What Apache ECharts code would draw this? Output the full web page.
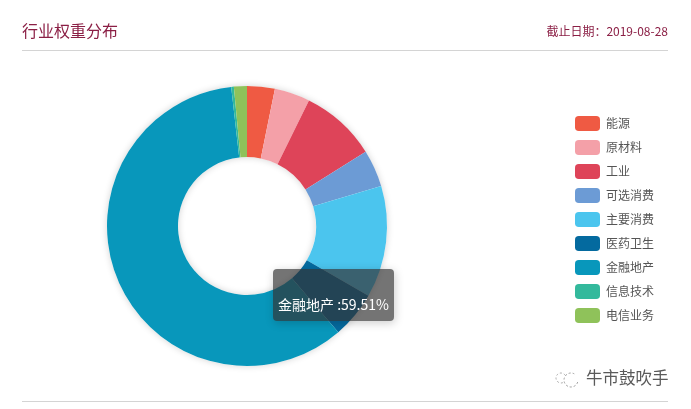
<!DOCTYPE html>
<html>

<head>
    <meta charset="utf-8">
    <title>行业权重分布</title>
    <script src="https://cdn.jsdelivr.net/npm/echarts@6/dist/echarts.min.js"></script>
    <style>
        html, body { margin: 0; padding: 0; background: #fff; }
    </style>
</head>

<body>
    <main id="main" style="width: 691px; height: 409px;"></main>

    <script>
        var categories = ['能源', '原材料', '工业', '可选消费', '主要消费', '医药卫生', '金融地产', '信息技术', '电信业务'];
        var weights = [3.2, 4.1, 8.8, 4.3, 12.9, 5.4, 59.51, 0.3, 1.5];
        var palette = ['#ef5a43', '#f4a0a8', '#de4459', '#6c9bd5', '#4bc5ee', '#046a9f', '#0897bb', '#33b99c', '#8fc25a'];

        var FONT = '"Noto Sans CJK SC", "Liberation Sans", sans-serif';
        var ACTIVE_INDEX = 6;
        var PIE_CENTER = [247, 226];
        var PIE_RADIUS = [69, 140];

        var myChart = echarts.init(document.getElementById('main'));

        var option = {
            animation: false,
            color: palette,
            textStyle: { fontFamily: FONT },
            title: [
                {
                    text: '行业权重分布',
                    left: 22,
                    top: 21,
                    padding: 0,
                    textStyle: { color: '#8b1f45', fontSize: 16, fontWeight: 'normal', lineHeight: 20 }
                },
                {
                    text: '截止日期：2019-08-28',
                    right: 23,
                    top: 24,
                    padding: 0,
                    textStyle: { color: '#8b1f45', fontSize: 12, fontWeight: 'normal', lineHeight: 15 }
                }
            ],
            tooltip: {
                trigger: 'item',
                alwaysShowContent: true,
                transitionDuration: 0,
                position: [273, 269],
                backgroundColor: 'rgba(50,50,50,0.68)',
                borderWidth: 0,
                borderRadius: 4,
                padding: [25, 5, 6, 5],
                textStyle: { color: '#fff', fontSize: 14, fontFamily: FONT },
                formatter: function (p) {
                    return p.name + ' :' + p.value + '%';
                }
            },
            legend: {
                orient: 'vertical',
                left: 570,
                top: 111,
                itemWidth: 25,
                itemHeight: 15,
                itemGap: 9,
                icon: 'roundRect',
                selectedMode: false,
                data: categories,
                textStyle: { color: '#555', fontSize: 12, padding: [0, 0, 0, 1] }
            },
            series: [
                // plain ring underneath, only there to carry the soft outer shadow
                {
                    type: 'pie',
                    silent: true,
                    center: PIE_CENTER,
                    radius: PIE_RADIUS,
                    label: { show: false },
                    labelLine: { show: false },
                    tooltip: { show: false },
                    itemStyle: {
                        color: '#fff',
                        shadowBlur: 7,
                        shadowColor: 'rgba(0,0,0,0.18)'
                    },
                    data: [{ name: '', value: 1 }]
                },
                {
                    type: 'pie',
                    center: PIE_CENTER,
                    radius: PIE_RADIUS,
                    startAngle: 90,
                    clockwise: true,
                    label: { show: false },
                    labelLine: { show: false },
                    emphasis: { scale: false },
                    data: categories.map(function (name, i) {
                        return { name: name, value: weights[i] };
                    })
                }
            ],
            graphic: [
                { type: 'line', shape: { x1: 22, y1: 50.5, x2: 668, y2: 50.5 }, style: { stroke: '#d4d4d4', lineWidth: 1 } },
                { type: 'line', shape: { x1: 22, y1: 401.5, x2: 668, y2: 401.5 }, style: { stroke: '#d4d4d4', lineWidth: 1 } },
                {
                    type: 'text',
                    left: 586,
                    top: 369,
                    style: { text: '牛市鼓吹手', fill: '#5a5a5a', fontSize: 16.5, fontFamily: FONT }
                },
                { type: 'arc', shape: { cx: 571, cy: 380, r: 7, startAngle: 0.3, endAngle: 5.2 }, style: { fill: 'none', stroke: '#999', lineWidth: 1, lineDash: [2, 2] } },
                { type: 'arc', shape: { cx: 561, cy: 378, r: 5, startAngle: 1.2, endAngle: 5.8 }, style: { fill: 'none', stroke: '#aaa', lineWidth: 1, lineDash: [2, 2] } }
            ]
        };

        myChart.setOption(option);
        myChart.dispatchAction({ type: 'showTip', seriesIndex: 1, dataIndex: ACTIVE_INDEX });
    </script>
</body>

</html>
